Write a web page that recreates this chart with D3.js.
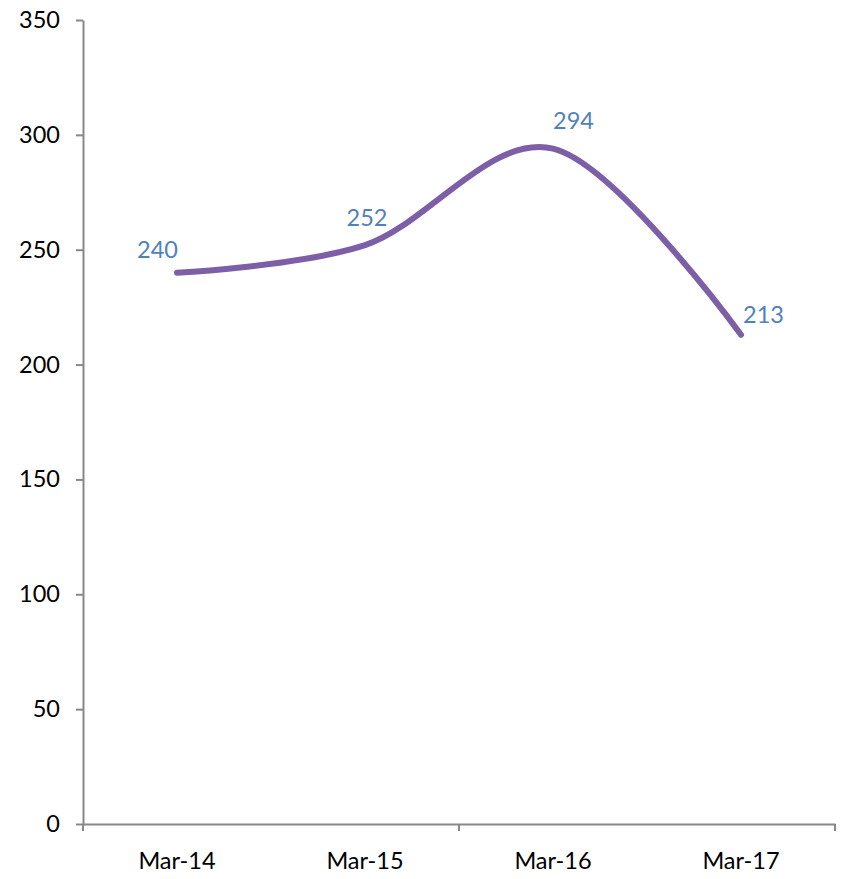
<!DOCTYPE html>
<html>
<head>
<meta charset="utf-8">
<script src="https://cdn.jsdelivr.net/npm/d3@7"></script>
<style>
  body { margin: 0; background: #fff; }
  text { font-family: Lato, "Open Sans", sans-serif; }
</style>
</head>
<body>
<svg width="846" height="879"></svg>
<script>
// chart data
var categories = ["Mar-14", "Mar-15", "Mar-16", "Mar-17"];
var values = [240, 252, 294, 213];
var yTicks = [0, 50, 100, 150, 200, 250, 300, 350];

// where each data label sits relative to its point
var labelAnchor = ["end", "middle", "start", "start"];
var labelDx = [1, 2, 0, 2];
var labelDy = [-15, -19, -20, -12];

var svg = d3.select("svg"),
    width = +svg.attr("width"),
    height = +svg.attr("height");

var margin = {top: 20, right: 11, bottom: 55, left: 83};

var x = d3.scaleBand()
    .domain(categories)
    .range([margin.left, width - margin.right]);

var y = d3.scaleLinear()
    .domain([0, 350])
    .range([height - margin.bottom, margin.top]);

var axisColor = "#888888";

// y axis
var yAxis = svg.append("g")
    .attr("transform", "translate(" + margin.left + ",0)")
    .call(d3.axisLeft(y).tickValues(yTicks).tickSize(7).tickPadding(16).tickSizeOuter(0));

// x axis, tick marks every second category like the original
var xAxis = svg.append("g")
    .attr("transform", "translate(0," + y(0) + ")")
    .call(d3.axisBottom(x).tickSize(0).tickPadding(28));

var xTickPos = [0, 2, 4].map(function(i) { return margin.left + i * x.step(); });
xAxis.selectAll(".cat-tick")
    .data(xTickPos)
    .enter().append("line")
    .attr("class", "cat-tick")
    .attr("x1", function(d) { return d; })
    .attr("x2", function(d) { return d; })
    .attr("y1", 0)
    .attr("y2", 7)
    .attr("stroke", axisColor)
    .attr("stroke-width", 2);

[yAxis, xAxis].forEach(function(g) {
  g.select(".domain").attr("stroke", axisColor).attr("stroke-width", 2);
  g.selectAll(".tick line").attr("stroke", axisColor).attr("stroke-width", 2);
  g.selectAll(".tick text").attr("fill", "#000").style("font-size", "23.5px");
});

// smoothed line
var line = d3.line()
    .x(function(d, i) { return x(categories[i]) + x.bandwidth() / 2; })
    .y(function(d) { return y(d); })
    .curve(d3.curveCatmullRom.alpha(0));

svg.append("path")
    .datum(values)
    .attr("fill", "none")
    .attr("stroke", "#7d5fa8")
    .attr("stroke-width", 6)
    .attr("stroke-linecap", "round")
    .attr("d", line);

// data labels
svg.append("g").selectAll("text")
    .data(values)
    .enter().append("text")
    .attr("x", function(d, i) { return x(categories[i]) + x.bandwidth() / 2 + labelDx[i]; })
    .attr("y", function(d, i) { return y(d) + labelDy[i]; })
    .attr("text-anchor", function(d, i) { return labelAnchor[i]; })
    .attr("fill", "#4f81bd")
    .style("font-size", "23.5px")
    .text(function(d) { return d; });
</script>
</body>
</html>
